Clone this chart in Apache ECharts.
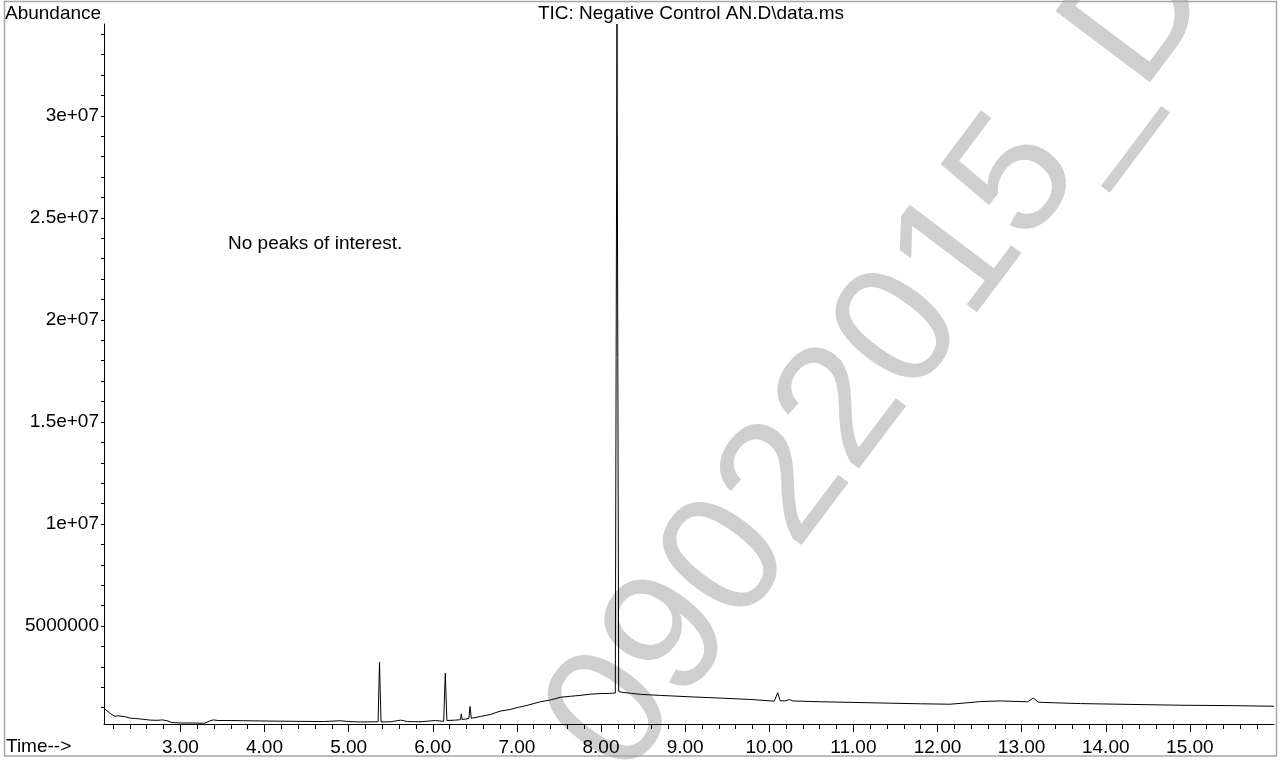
<!DOCTYPE html>
<html>
<head>
<meta charset="utf-8">
<script src="https://cdn.jsdelivr.net/npm/echarts@6/dist/echarts.min.js"></script>
<style>
  html, body { margin: 0; padding: 0; background: #ffffff; }
  #chart { width: 1284px; height: 761px; }
</style>
</head>
<body>
<div id="chart"></div>
<script>
// Retention time (min)
const rtMinutes = [
  2.092, 2.10, 2.14, 2.17, 2.22, 2.26, 2.28, 2.34, 2.40, 2.46,
  2.52, 2.58, 2.64, 2.72, 2.79, 2.85, 2.90, 3.00, 3.12, 3.22,
  3.29, 3.35, 3.39, 3.45, 3.59, 3.75, 3.95, 4.15, 4.42, 4.70,
  4.90, 5.00, 5.14, 5.35, 5.367, 5.385, 5.50, 5.62, 5.70, 5.85,
  6.03, 6.13, 6.149, 6.168, 6.27, 6.33, 6.339, 6.35, 6.39, 6.43,
  6.443, 6.458, 6.57, 6.69, 6.80, 6.92, 7.02, 7.12, 7.28, 7.40,
  7.52, 7.64, 7.75, 7.87, 7.99, 8.10, 8.17, 8.19, 8.21, 8.24,
  8.36, 8.48, 8.71, 9.07, 9.42, 9.78, 10.06, 10.10, 10.13, 10.19,
  10.24, 10.28, 10.61, 11.09, 11.44, 11.80, 12.15, 12.33, 12.51, 12.75,
  13.07, 13.14, 13.20, 13.23, 13.70, 14.30, 14.89, 15.49, 16.00
];
// Total ion current abundance
const abundance = [
  960000, 1010000, 810000, 700000, 580000, 600000, 540000, 560000, 490000, 470000,
  450000, 420000, 390000, 380000, 400000, 350000, 270000, 250000, 250000, 240000,
  240000, 350000, 400000, 370000, 370000, 360000, 350000, 340000, 330000, 320000,
  360000, 320000, 300000, 310000, 3230000, 300000, 310000, 390000, 320000, 310000,
  370000, 330000, 2690000, 370000, 390000, 410000, 700000, 420000, 440000, 470000,
  1060000, 480000, 570000, 670000, 830000, 910000, 1020000, 1110000, 1290000, 1380000,
  1510000, 1560000, 1600000, 1660000, 1690000, 1700000, 1720000, 34500000, 1800000, 1760000,
  1700000, 1650000, 1600000, 1530000, 1470000, 1400000, 1320000, 1730000, 1340000, 1330000,
  1400000, 1330000, 1290000, 1250000, 1220000, 1190000, 1170000, 1230000, 1300000, 1330000,
  1290000, 1470000, 1270000, 1260000, 1200000, 1160000, 1120000, 1100000, 1070000
];
// Axis tick values / labels
const xMajorTicks = [3, 4, 5, 6, 7, 8, 9, 10, 11, 12, 13, 14, 15];
const yMajorTicks = [5000000, 10000000, 15000000, 20000000, 25000000, 30000000];
const yTickLabels = ['5000000', '1e+07', '1.5e+07', '2e+07', '2.5e+07', '3e+07'];

const xMinorTicks = [];
for (let i = 11; i <= 79; i++) xMinorTicks.push(Math.round(i * 20) / 100);
const yMinorTicks = [];
for (let i = 1; i <= 34; i++) yMinorTicks.push(i * 1000000);

const FONT = '"Liberation Sans", Arial, Helvetica, sans-serif';
const FS = 19;

const seriesData = rtMinutes.map((t, i) => [t, abundance[i]]);

const chart = echarts.init(document.getElementById('chart'), null, { renderer: 'canvas' });
chart.setOption({
  animation: false,
  backgroundColor: '#ffffff',
  grid: { left: 104, right: 10, top: 24, bottom: 37, containLabel: false },
  xAxis: [
    {
      type: 'value', min: 2.092, max: 16.0, position: 'bottom',
      axisLine: { show: true, onZero: false, lineStyle: { color: '#000', width: 1 } },
      axisTick: { show: true, customValues: xMinorTicks, length: 5, lineStyle: { color: '#000', width: 1 } },
      axisLabel: { show: false },
      splitLine: { show: false }
    },
    {
      type: 'value', min: 2.092, max: 16.0, position: 'bottom', offset: 0,
      axisLine: { show: false, onZero: false },
      axisTick: { show: true, customValues: xMajorTicks, length: 8, lineStyle: { color: '#000', width: 1 } },
      axisLabel: {
        show: true, customValues: xMajorTicks, margin: 14,
        fontFamily: FONT, fontSize: FS, color: '#000',
        formatter: v => Number(v).toFixed(2)
      },
      splitLine: { show: false }
    }
  ],
  yAxis: {
    type: 'value', min: 200000, max: 34500000,
    axisLine: { show: true, onZero: false, lineStyle: { color: '#000', width: 1 } },
    axisTick: { show: true, customValues: yMinorTicks, length: 3, lineStyle: { color: '#000', width: 1 } },
    axisLabel: {
      show: true, customValues: yMajorTicks, margin: 5,
      fontFamily: FONT, fontSize: FS, color: '#000',
      formatter: v => {
        const i = yMajorTicks.indexOf(v);
        return i >= 0 ? yTickLabels[i] : '';
      }
    },
    splitLine: { show: false }
  },
  series: [{
    type: 'line',
    xAxisIndex: 0,
    data: seriesData,
    showSymbol: false,
    symbol: 'none',
    smooth: false,
    clip: true,
    sampling: null,
    lineStyle: { color: '#000', width: 1 },
    z: 5
  }],
  graphic: [
    {
      type: 'text', x: 528, y: 829, rotation: 0.925, silent: true, z: -100,
      style: {
        text: '_09022015_D', font: '172px "Liberation Sans", Arial, sans-serif',
        fill: '#cfcfcf', textAlign: 'left', align: 'left', textVerticalAlign: 'middle', verticalAlign: 'middle'
      }
    },
    {
      type: 'rect', silent: true, z: -50,
      shape: { x: 4.5, y: 1.5, width: 1272, height: 754.5 },
      style: { fill: 'none', stroke: '#a6a6a6', lineWidth: 1.5 }
    },
    {
      type: 'text', x: 5, y: 14, silent: true,
      style: { text: 'Abundance', font: FS + 'px ' + FONT, fill: '#000', textAlign: 'left', align: 'left', textVerticalAlign: 'middle', verticalAlign: 'middle' }
    },
    {
      type: 'text', x: 691, y: 14, silent: true,
      style: { text: 'TIC: Negative Control AN.D\\data.ms', font: FS + 'px ' + FONT, fill: '#000', textAlign: 'center', align: 'center', textVerticalAlign: 'middle', verticalAlign: 'middle' }
    },
    {
      type: 'text', x: 6, y: 747, silent: true,
      style: { text: 'Time-->', font: FS + 'px ' + FONT, fill: '#000', textAlign: 'left', align: 'left', textVerticalAlign: 'middle', verticalAlign: 'middle' }
    },
    {
      type: 'text', x: 228, y: 244, silent: true,
      style: { text: 'No peaks of interest.', font: FS + 'px ' + FONT, fill: '#000', textAlign: 'left', align: 'left', textVerticalAlign: 'middle', verticalAlign: 'middle' }
    }
  ]
});
</script>
</body>
</html>
